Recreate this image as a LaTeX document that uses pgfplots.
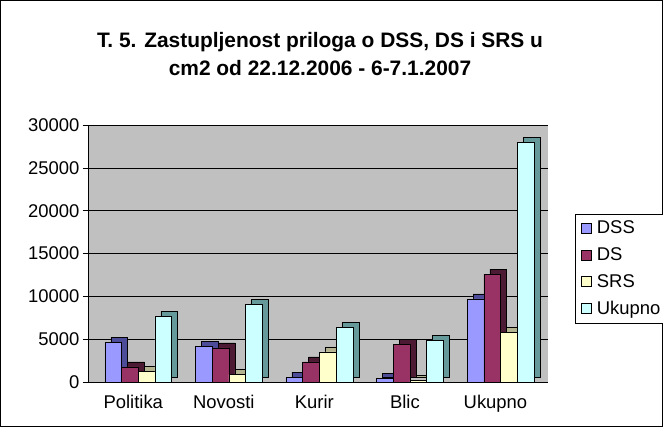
\documentclass[border=0pt]{standalone}
\usepackage{pgfplots}
\pgfplotsset{compat=1.18}
\usepackage{pgfplotstable}
\usepackage{fontspec}
\setmainfont{Liberation Sans}
\definecolor{cDSS}{HTML}{9999FF}
\definecolor{cDSSs}{HTML}{4C4C99}
\definecolor{cDS}{HTML}{993366}
\definecolor{cDSs}{HTML}{4C1A33}
\definecolor{cSRS}{HTML}{FFFFCC}
\definecolor{cSRSs}{HTML}{B3B38F}
\definecolor{cUk}{HTML}{CCFFFF}
\definecolor{cUks}{HTML}{669999}
\definecolor{wall}{HTML}{C0C0C0}
\pgfplotstableread{
x DSS DS SRS Ukupno
0 4600 1780 1280 7650
1 4150 3990 900 9100
2 580 2360 3520 6360
3 400 4400 150 4900
4 9700 12600 5750 27950
}\data
\newcommand{\lbl}{\fontsize{18.5}{22}\selectfont}
\begin{document}
\begin{tikzpicture}
\useasboundingbox (0,0) rectangle (663bp,427bp);
\draw[line width=1bp] (0.5bp,0.5bp) rectangle (662.5bp,426.5bp);
\node[align=center, font=\bfseries\fontsize{21}{28.3}\selectfont] at (320bp,373bp)
  {T. 5. Zastupljenost priloga o DSS, DS i SRS u\\cm2 od 22.12.2006 - 6-7.1.2007};
\begin{axis}[
  at={(88bp,45bp)}, anchor=south west,
  scale only axis, width=460bp, height=257bp,
  xmin=-0.5, xmax=4.58, ymin=0, ymax=30000,
  axis lines*=left,
  axis line style={black, line width=0.6bp},
  axis background/.style={fill=wall},
  ymajorgrids, grid style={black, line width=0.6bp},
  ytick={0,5000,...,30000},
  scaled y ticks=false,
  /pgf/number format/.cd, 1000 sep={}, assume math mode=true, /pgfplots/.cd,
  tick align=outside, major tick length=5bp,
  tick style={black, line width=0.6bp},
  xtick={0,1,2,3,4},
  xticklabels={Politika,Novosti,Kurir,Blic,Ukupno},
  x tick style={draw=none},
  extra x ticks={-0.5,0.5,1.5,2.5,3.5,4.5},
  extra x tick labels={},
  extra x tick style={tick style={draw=black}, grid=none},
  tick label style={font=\lbl},
  xticklabel style={yshift=-5bp},
  ybar=0pt, bar width=16.7bp,
  legend style={at={(1.0587,0.655)}, anchor=north west, font=\lbl,
    draw=black, line width=0.6bp, fill=white, inner xsep=6bp, inner ysep=5bp,
    row sep=8.4bp, cells={anchor=west},
    /tikz/every odd column/.append style={column sep=3bp}},
  legend image code/.code={\draw[#1, draw=black, line width=0.6bp] (0bp,-5bp) rectangle (10bp,5bp);},
  clip=false,
]
\addplot[forget plot, fill=cDSSs, draw=black, line width=0.5bp, bar shift=-14.05bp, yshift=5bp] table[x=x,y=DSS] {\data};
\addplot[fill=cDSS, draw=black, line width=0.5bp, bar shift=-20.05bp] table[x=x,y=DSS] {\data};
\addplot[forget plot, fill=cDSs, draw=black, line width=0.5bp, bar shift=2.65bp, yshift=5bp] table[x=x,y=DS] {\data};
\addplot[fill=cDS, draw=black, line width=0.5bp, bar shift=-3.35bp] table[x=x,y=DS] {\data};
\addplot[forget plot, fill=cSRSs, draw=black, line width=0.5bp, bar shift=19.35bp, yshift=5bp] table[x=x,y=SRS] {\data};
\addplot[fill=cSRS, draw=black, line width=0.5bp, bar shift=13.35bp] table[x=x,y=SRS] {\data};
\addplot[forget plot, fill=cUks, draw=black, line width=0.5bp, bar shift=36.05bp, yshift=5bp] table[x=x,y=Ukupno] {\data};
\addplot[fill=cUk, draw=black, line width=0.5bp, bar shift=30.05bp] table[x=x,y=Ukupno] {\data};
\legend{DSS,DS,SRS,Ukupno}
\end{axis}
\end{tikzpicture}
\end{document}
